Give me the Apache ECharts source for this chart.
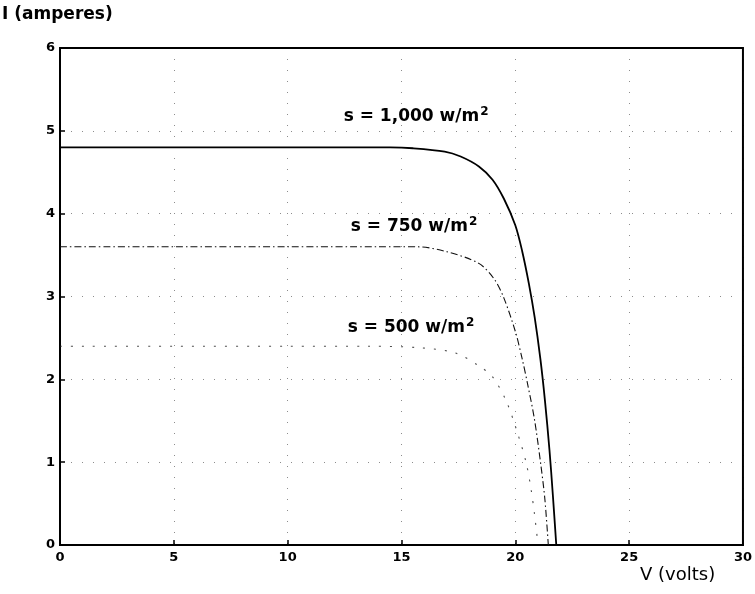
<!DOCTYPE html>
<html>
<head>
<meta charset="utf-8">
<script src="https://cdn.jsdelivr.net/npm/echarts@6/dist/echarts.min.js"></script>
<style>
  html, body { margin: 0; padding: 0; background: #fff; }
  #chart { width: 755px; height: 594px; }
</style>
</head>
<body>
<div id="chart"></div>
<script>
// I–V characteristic of a PV module at three irradiance levels
var v1000 = [0, 5, 10, 13, 14.5, 15.5, 16.9, 17.6, 18.4, 19.0, 19.5, 20.0, 20.3, 20.6, 20.85, 21.1, 21.3, 21.5, 21.65, 21.8];
var i1000 = [4.80, 4.80, 4.80, 4.80, 4.80, 4.79, 4.75, 4.69, 4.57, 4.41, 4.18, 3.86, 3.55, 3.15, 2.75, 2.25, 1.75, 1.15, 0.60, 0.0];

var v750 = [0, 5, 10, 14, 15.7, 17.0, 18.4, 19.1, 19.5, 20.0, 20.3, 20.55, 20.84, 21.13, 21.3, 21.45];
var i750 = [3.60, 3.60, 3.60, 3.60, 3.60, 3.54, 3.40, 3.20, 2.98, 2.58, 2.25, 1.93, 1.52, 0.95, 0.55, 0.0];

var v500 = [0, 5, 10, 13.6, 15.9, 17.35, 18.36, 19.0, 19.6, 20.1, 20.48, 20.7, 20.84, 21.0];
var i500 = [2.40, 2.40, 2.40, 2.40, 2.38, 2.32, 2.17, 2.03, 1.74, 1.35, 0.99, 0.66, 0.38, 0.0];

// curve annotations: [V, I] anchor, irradiance text
var labelNames = ['1,000', '750', '500'];
var labelV = [12.46, 12.77, 12.64];
var labelI = [5.17, 3.85, 2.63];

var xTicks = [0, 5, 10, 15, 20, 25, 30];
var yTicks = [0, 1, 2, 3, 4, 5, 6];

function pairs(xs, ys) {
  return xs.map(function (x, k) { return [x, ys[k]]; });
}

var font = 'DejaVu Sans';
var labelData = labelNames.map(function (n, k) { return [labelV[k], labelI[k], n]; });
var gridDots = { color: '#000', width: 1, type: [1, 10], opacity: 0.45 };

var chart = echarts.init(document.getElementById('chart'), null, { renderer: 'canvas' });
chart.setOption({
  animation: false,
  backgroundColor: '#fff',
  grid: {
    left: 60, right: 9, top: 48, bottom: 49,
    show: true, borderColor: '#000', borderWidth: 2, backgroundColor: 'transparent'
  },
  xAxis: {
    type: 'value', min: xTicks[0], max: xTicks[xTicks.length - 1], interval: 5,
    axisLine: { lineStyle: { color: '#000', width: 2 } },
    axisTick: { inside: true, length: 5, lineStyle: { color: '#000', width: 1.5 } },
    axisLabel: { color: '#000', fontFamily: font, fontSize: 13, fontWeight: 'bold', margin: 6 },
    splitLine: { show: true, lineStyle: gridDots }
  },
  yAxis: {
    type: 'value', min: yTicks[0], max: yTicks[yTicks.length - 1], interval: 1,
    axisLine: { show: true, lineStyle: { color: '#000', width: 2 } },
    axisTick: { show: true, inside: true, length: 5, lineStyle: { color: '#000', width: 1.5 } },
    axisLabel: { color: '#000', fontFamily: font, fontSize: 13, fontWeight: 'bold', margin: 5 },
    splitLine: { show: true, lineStyle: gridDots }
  },
  graphic: [
    { type: 'text', left: 2, top: 6,
      style: { text: 'I (amperes)', fontFamily: font, fontSize: 17, fontWeight: 'bold', fill: '#000' } },
    { type: 'text', left: 640, top: 566,
      style: { text: 'V (volts)', fontFamily: font, fontSize: 18, fill: '#000' } }
  ],
  series: [
    { type: 'line', name: 's = 1,000', data: pairs(v1000, i1000), showSymbol: false, smooth: 0.3,
      lineStyle: { color: '#000', width: 1.8 } },
    { type: 'line', name: 's = 750', data: pairs(v750, i750), showSymbol: false, smooth: 0.3,
      lineStyle: { color: '#111', width: 1.1, type: [7, 3, 1.5, 3] } },
    { type: 'line', name: 's = 500', data: pairs(v500, i500), showSymbol: false, smooth: 0.3,
      lineStyle: { color: '#222', width: 1.1, type: [2, 9], opacity: 0.8 } },
    { type: 'scatter', data: labelData, symbolSize: 0, silent: true,
      itemStyle: { opacity: 1, color: '#000' },
      label: {
        show: true, position: 'right', distance: 0, color: '#000', opacity: 1,
        formatter: function (p) { return '{t|s = ' + p.data[2] + ' w/m}{sup|2}'; },
        rich: {
          t: { fontFamily: font, fontSize: 17, fontWeight: 'bold', color: '#000' },
          sup: { fontFamily: font, fontSize: 12, fontWeight: 'bold', color: '#000', verticalAlign: 'top', padding: [0, 0, 9, 1] }
        }
      } }
  ]
});
</script>
</body>
</html>
